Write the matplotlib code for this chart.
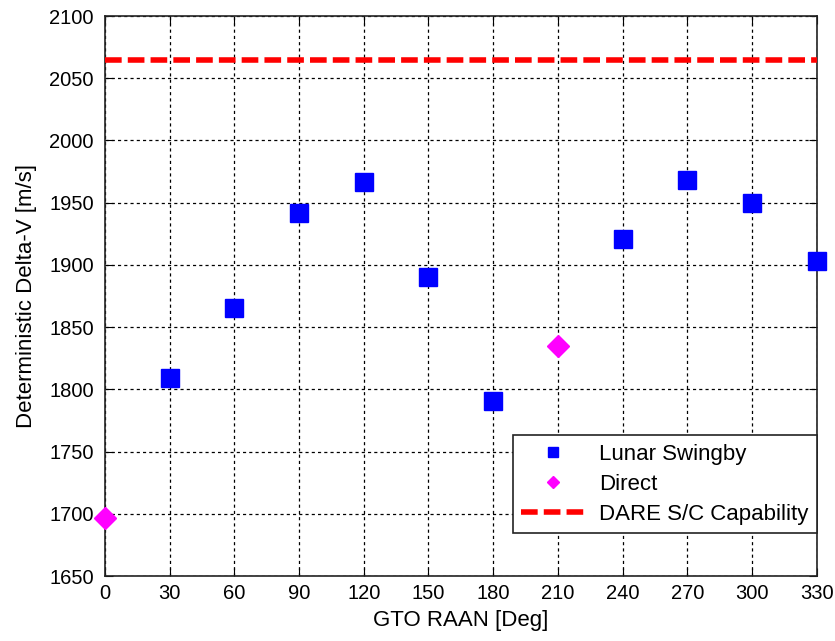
import numpy as np
import matplotlib
matplotlib.use('Agg')
import matplotlib.pyplot as plt

plt.rcParams['font.family'] = ['Liberation Sans', 'DejaVu Sans']

# data
raan_swingby = [30, 60, 90, 120, 150, 180, 240, 270, 300, 330]
dv_swingby = [1809, 1865, 1942, 1967, 1890, 1791, 1921, 1968, 1950, 1903]
raan_direct = [0, 210]
dv_direct = [1697, 1835]
capability = 2065

xticks = list(range(0, 331, 30))
yticks = list(range(1650, 2101, 50))

fig = plt.figure(figsize=(8.35, 6.41), dpi=100)
ax = fig.add_axes([0.1257, 0.1014, 0.8523, 0.8736])

ax.plot(raan_swingby, dv_swingby, 's', color='#0000ff', markersize=13,
        label='Lunar Swingby', zorder=5, clip_on=False)
ax.plot(raan_direct, dv_direct, 'D', color='#ff00ff', markersize=11,
        label='Direct', zorder=5, clip_on=False)
ax.axhline(capability, color='#ff0000', linewidth=4, dashes=(3.0, 1.1),
           label='DARE S/C Capability', zorder=4)

ax.set_xlim(0, 330)
ax.set_ylim(1650, 2100)
ax.set_xticks(xticks)
ax.set_yticks(yticks)
ax.tick_params(direction='in', labelsize=14.5, length=6, top=True, right=True)
ax.tick_params(axis='y', pad=8)
ax.tick_params(axis='x', pad=6)
ax.grid(True, color='black', linestyle=(0, (2.5, 2.5)), linewidth=0.9)
for s in ax.spines.values():
    s.set_linewidth(1.2)
    s.set_color('#222222')

ax.set_xlabel('GTO RAAN [Deg]', fontsize=16, labelpad=5)
ax.set_ylabel('Deterministic Delta-V [m/s]', fontsize=16, labelpad=9)

leg = ax.legend(loc='lower right', bbox_to_anchor=(1.0, 43 / 560), fontsize=16,
                fancybox=False, framealpha=1, edgecolor='#222222',
                markerscale=0.6, handlelength=2.9, handletextpad=0.6,
                borderaxespad=0, labelspacing=0.4, borderpad=0.38)
leg.get_frame().set_linewidth(1.2)

fig.savefig('out.png', dpi=100)
